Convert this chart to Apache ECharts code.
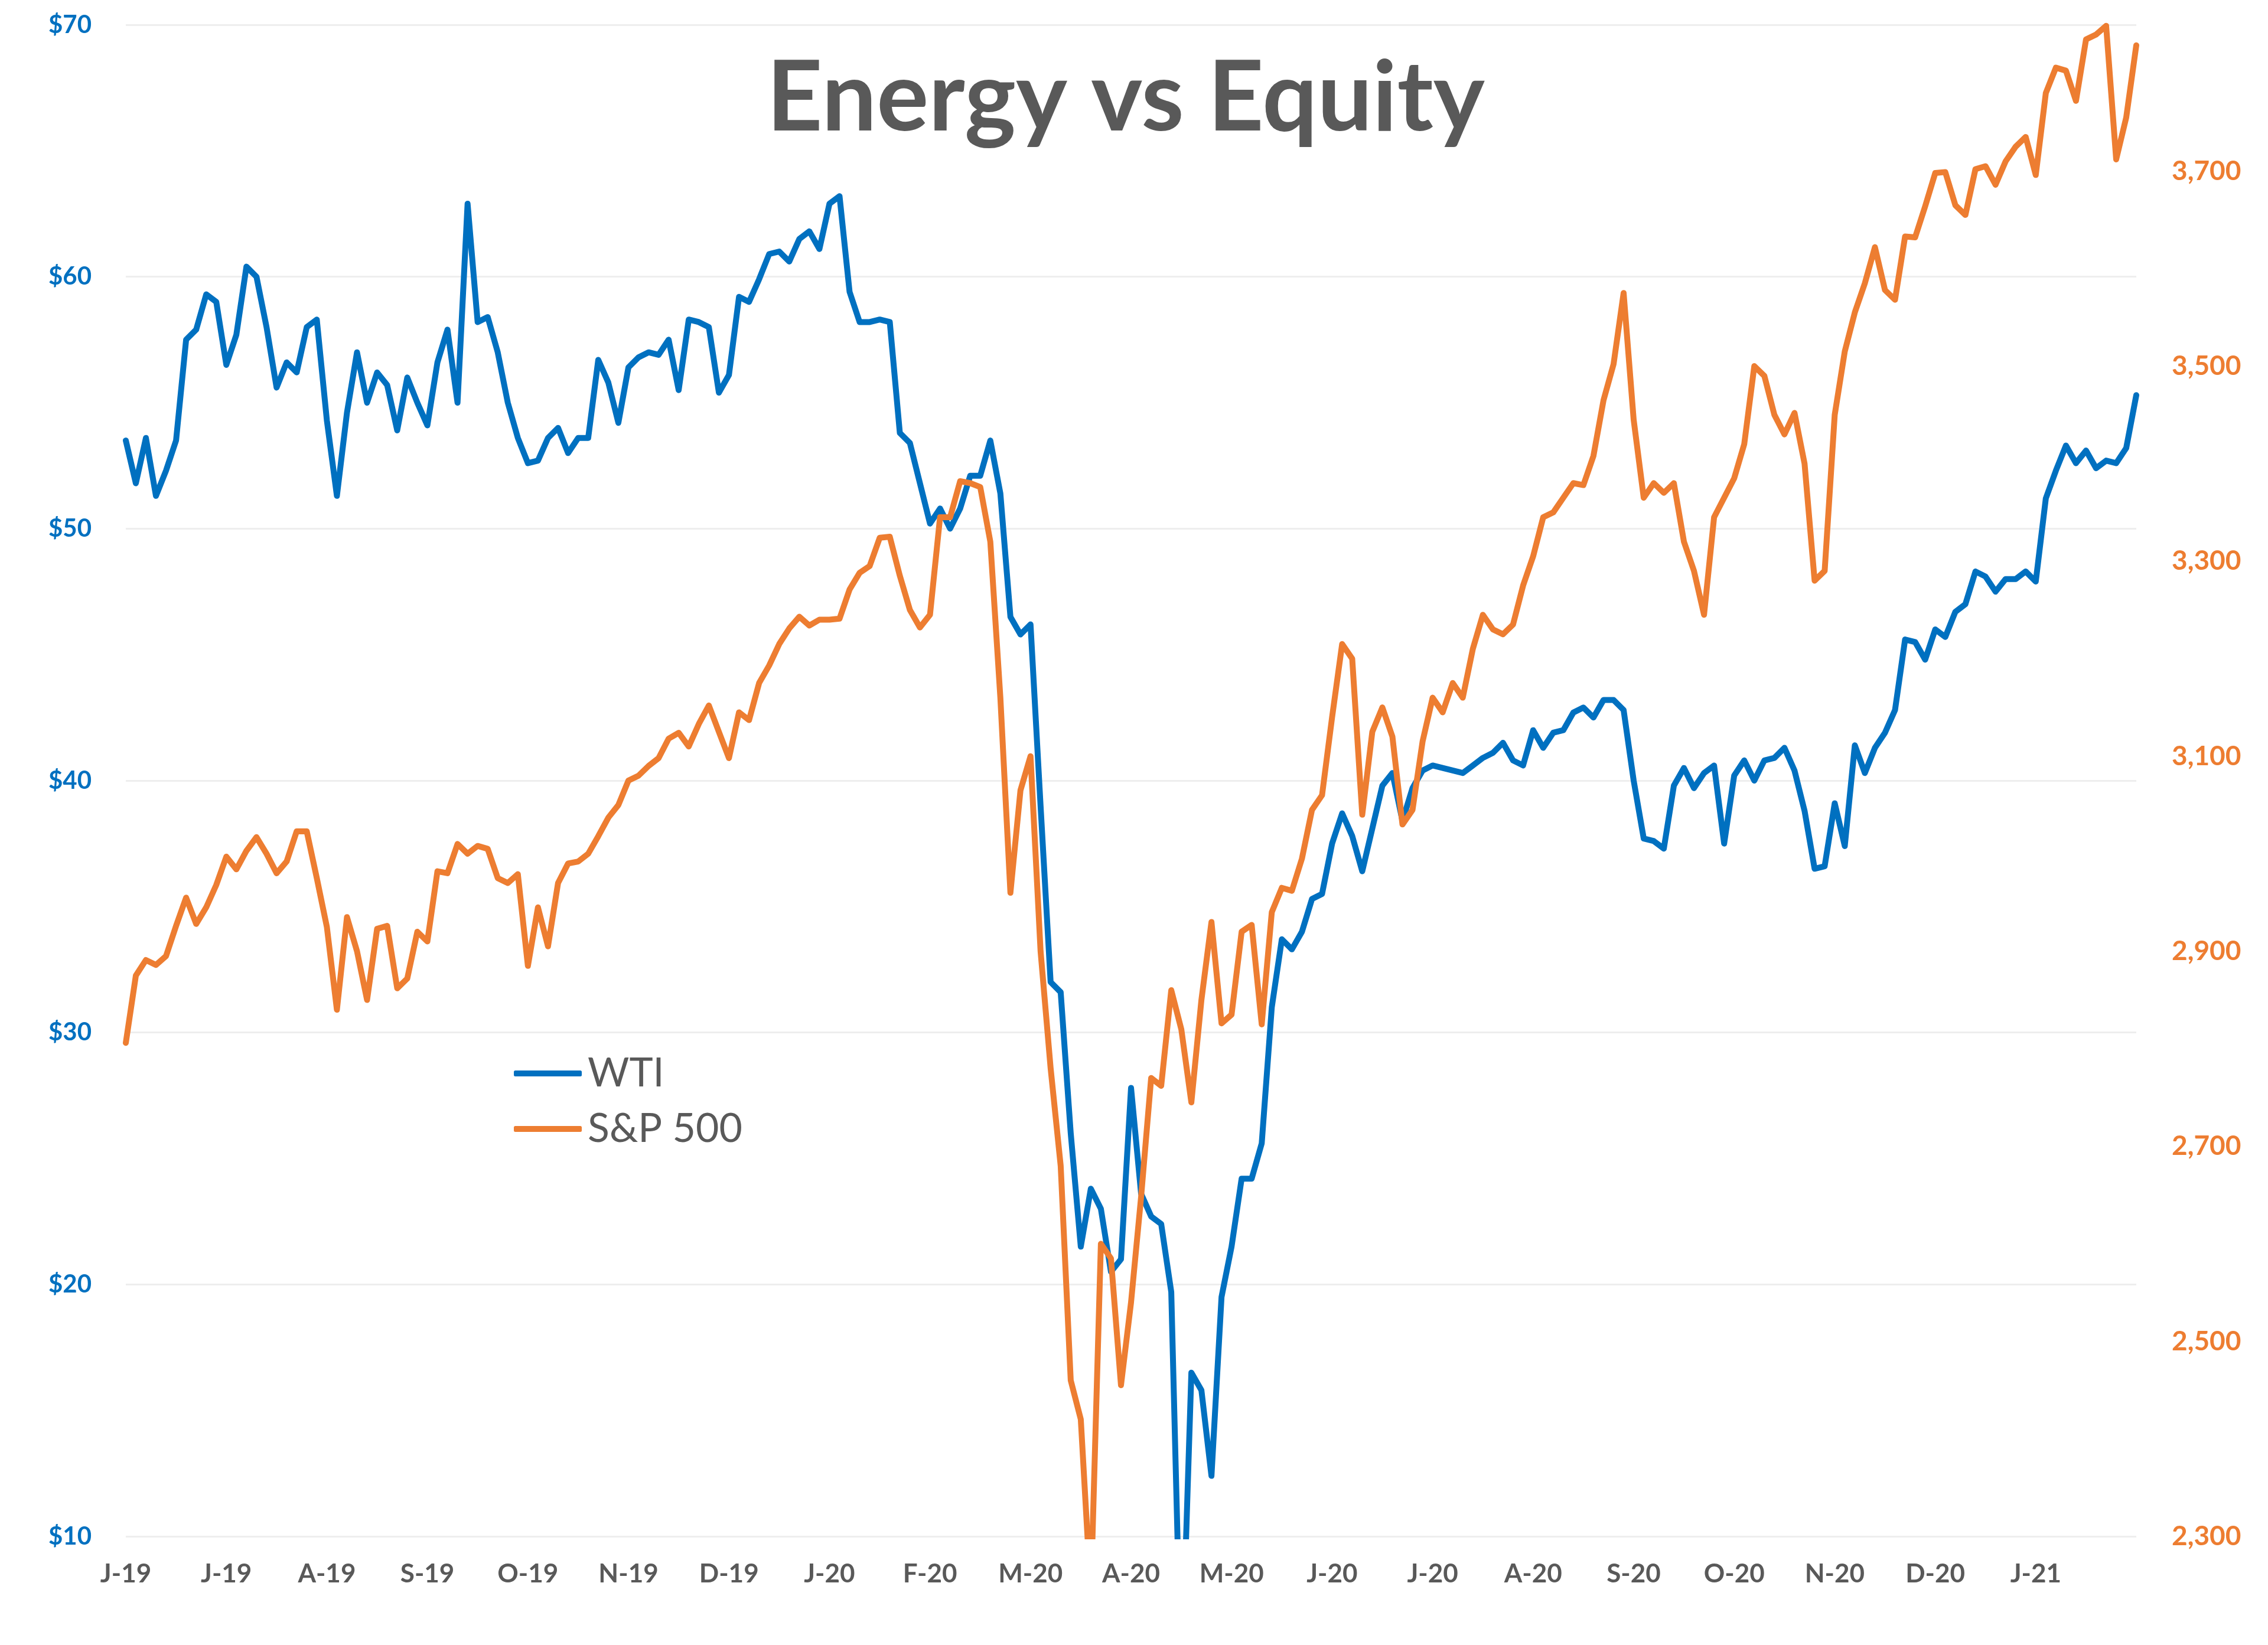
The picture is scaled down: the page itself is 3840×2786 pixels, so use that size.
<!DOCTYPE html>
<html>
<head>
<meta charset="utf-8">
<script src="https://cdn.jsdelivr.net/npm/echarts@6/dist/echarts.min.js"></script>
<style>
  html, body { margin: 0; padding: 0; background: #ffffff; }
  #chart { width: 3840px; height: 2786px; }
</style>
</head>
<body>
<div id="chart"></div>
<script>
// ---- data ----
const titleText = 'Energy vs Equity';
const tickLabels = ['J-19','J-19','A-19','S-19','O-19','N-19','D-19','J-20','F-20','M-20',
                    'A-20','M-20','J-20','J-20','A-20','S-20','O-20','N-20','D-20','J-21'];
const pointsPerTick = 10;

const wti = [
  53.5,51.8,53.6,51.3,52.3,53.5,57.5,57.9,59.3,59.0,
  56.5,57.7,60.4,60.0,58.0,55.6,56.6,56.2,58.0,58.3,
  54.3,51.3,54.6,57.0,55.0,56.2,55.7,53.9,56.0,55.0,
  54.1,56.6,57.9,55.0,62.9,58.2,58.4,57.0,55.0,53.6,
  52.6,52.7,53.6,54.0,53.0,53.6,53.6,56.7,55.8,54.2,
  56.4,56.8,57.0,56.9,57.5,55.5,58.3,58.2,58.0,55.4,
  56.1,59.2,59.0,59.9,60.9,61.0,60.6,61.5,61.8,61.1,
  62.9,63.2,59.4,58.2,58.2,58.3,58.2,53.8,53.4,51.8,
  50.2,50.8,50.0,50.8,52.1,52.1,53.5,51.4,46.5,45.8,
  46.2,39.0,32.0,31.6,26.0,21.5,23.8,23.0,20.5,21.0,
  27.8,23.6,22.7,22.4,19.7,4.0,16.5,15.8,12.4,19.5,
  21.5,24.2,24.2,25.6,31.0,33.7,33.3,34.0,35.3,35.5,
  37.5,38.7,37.8,36.4,38.1,39.8,40.3,38.4,39.7,40.4,
  40.6,40.5,40.4,40.3,40.6,40.9,41.1,41.5,40.8,40.6,
  42.0,41.3,41.9,42.0,42.7,42.9,42.5,43.2,43.2,42.8,
  40.0,37.7,37.6,37.3,39.8,40.5,39.7,40.3,40.6,37.5,
  40.2,40.8,40.0,40.8,40.9,41.3,40.4,38.8,36.5,36.6,
  39.1,37.4,41.4,40.3,41.3,41.9,42.8,45.6,45.5,44.8,
  46.0,45.7,46.7,47.0,48.3,48.1,47.5,48.0,48.0,48.3,
  47.9,51.2,52.3,53.3,52.6,53.1,52.4,52.7,52.6,53.2,
  55.3
];

const sp500 = [
  2806,2875,2891,2886,2895,2926,2955,2928,2945,2968,
  2997,2984,3003,3017,3000,2980,2992,3023,3023,2975,
  2925,2840,2935,2900,2850,2923,2926,2862,2872,2920,
  2910,2982,2980,3010,3000,3008,3005,2975,2970,2979,
  2885,2945,2905,2970,2990,2992,3000,3018,3037,3050,
  3075,3080,3090,3098,3118,3124,3110,3133,3152,3125,
  3098,3145,3137,3175,3193,3215,3231,3243,3234,3240,
  3240,3241,3271,3288,3295,3324,3325,3285,3250,3232,
  3245,3345,3345,3382,3380,3376,3320,3160,2960,3065,
  3100,2900,2780,2680,2460,2420,2240,2600,2585,2455,
  2540,2648,2770,2762,2860,2820,2745,2850,2930,2826,
  2835,2920,2927,2825,2940,2965,2962,2995,3045,3060,
  3140,3215,3200,3040,3125,3150,3120,3030,3045,3115,
  3160,3145,3175,3160,3210,3245,3230,3225,3235,3275,
  3305,3345,3350,3365,3380,3378,3408,3465,3502,3575,
  3445,3365,3380,3370,3380,3320,3290,3245,3345,3365,
  3385,3420,3500,3490,3450,3430,3452,3400,3280,3290,
  3450,3515,3555,3585,3622,3578,3568,3633,3632,3664,
  3698,3699,3665,3655,3702,3705,3686,3710,3725,3735,
  3696,3780,3806,3803,3772,3835,3840,3849,3712,3755,
  3829
];

// category slots, one per data point (labels come from tickLabels)
const categories = wti.map((_, i) => 'p' + i);

// ---- chart ----
const chart = echarts.init(document.getElementById('chart'), null, { renderer: 'canvas' });
const FONT = 'Lato';
const GRAY = '#595959';
const BLUE = '#0070C0';
const ORANGE = '#ED7D31';

chart.setOption({
  backgroundColor: '#ffffff',
  animation: false,
  title: {
    text: titleText,
    left: 1901,
    top: 80,
    textAlign: 'center',
    textStyle: { fontFamily: FONT, fontSize: 165, fontWeight: 'bold', color: GRAY }
  },
  legend: {
    orient: 'vertical',
    left: 865,
    top: 1779,
    itemWidth: 115,
    itemHeight: 10,
    itemGap: 26,
    icon: 'roundRect',
    data: ['WTI', 'S&P 500'],
    textStyle: { fontFamily: FONT, fontSize: 68, color: GRAY, lineHeight: 68, padding: [0, 0, 0, 5] }
  },
  grid: { left: 213, right: 223, top: 42, bottom: 184, containLabel: false },
  xAxis: {
    type: 'category',
    data: categories,
    boundaryGap: false,
    axisLine: { show: false },
    axisTick: { show: false },
    splitLine: { show: false },
    axisLabel: {
      interval: pointsPerTick - 1,
      margin: 42,
      fontFamily: FONT,
      fontSize: 44,
      fontWeight: 'bold',
      color: GRAY,
      formatter: function (value, index) {
        return index % pointsPerTick === 0 ? (tickLabels[index / pointsPerTick] || '') : '';
      }
    }
  },
  yAxis: [
    {
      type: 'value',
      min: 10, max: 70, interval: 10,
      position: 'left',
      axisLine: { show: false },
      axisTick: { show: false },
      splitLine: { show: true, lineStyle: { color: '#EEEEEE', width: 3 } },
      axisLabel: {
        margin: 58,
        fontFamily: FONT, fontSize: 42, fontWeight: 'bold', color: BLUE,
        formatter: v => '$' + v
      }
    },
    {
      type: 'value',
      min: 2300, max: 3850, interval: 200,
      position: 'right',
      axisLine: { show: false },
      axisTick: { show: false },
      splitLine: { show: false },
      axisLabel: {
        margin: 60,
        showMaxLabel: false,
        fontFamily: FONT, fontSize: 46, fontWeight: 'bold', color: ORANGE,
        formatter: v => v.toLocaleString('en-US')
      }
    }
  ],
  series: [
    {
      name: 'WTI',
      type: 'line',
      yAxisIndex: 0,
      data: wti,
      showSymbol: false,
      symbol: 'none',
      clip: true,
      color: BLUE,
      lineStyle: { color: BLUE, width: 10, cap: 'round', join: 'round' }
    },
    {
      name: 'S&P 500',
      type: 'line',
      yAxisIndex: 1,
      data: sp500,
      showSymbol: false,
      symbol: 'none',
      clip: true,
      color: ORANGE,
      lineStyle: { color: ORANGE, width: 10, cap: 'round', join: 'round' }
    }
  ]
});
</script>
</body>
</html>
